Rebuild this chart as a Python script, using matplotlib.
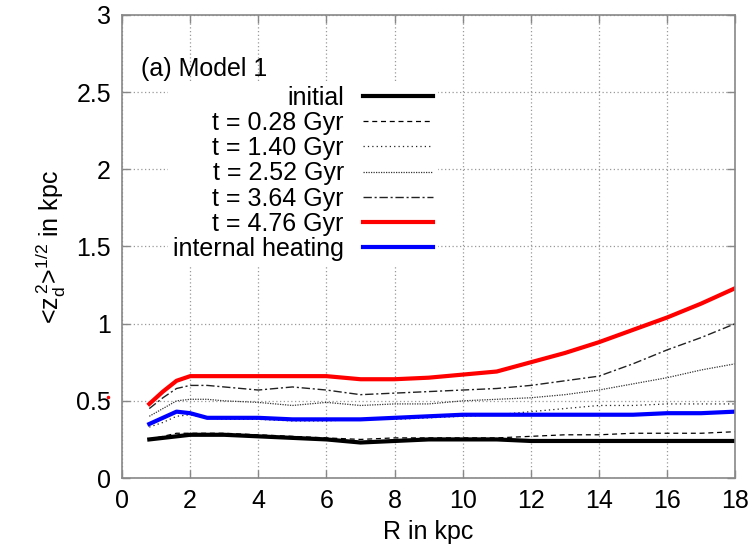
import numpy as np
import matplotlib
matplotlib.use('Agg')
import matplotlib.pyplot as plt

plt.rcParams['font.family'] = ['Liberation Sans', 'DejaVu Sans']
plt.rcParams['mathtext.default'] = 'regular'

# радиус, kpc
r = [0.8, 1.2, 1.6, 2.0, 2.5, 3, 4, 5, 6, 7, 8, 9, 10, 11, 12, 13, 14, 15, 16, 17, 18]

z_initial = [0.25, 0.26, 0.27, 0.28, 0.28, 0.28, 0.27, 0.26, 0.25, 0.23, 0.24,
             0.25, 0.25, 0.25, 0.24, 0.24, 0.24, 0.24, 0.24, 0.24, 0.24]
z_028 = [0.25, 0.27, 0.29, 0.29, 0.29, 0.29, 0.28, 0.27, 0.26, 0.25, 0.26,
         0.26, 0.26, 0.26, 0.27, 0.28, 0.28, 0.29, 0.29, 0.29, 0.30]
z_140 = [0.33, 0.36, 0.40, 0.41, 0.39, 0.38, 0.38, 0.37, 0.37, 0.38, 0.38,
         0.39, 0.40, 0.41, 0.43, 0.45, 0.47, 0.47, 0.48, 0.48, 0.48]
z_252 = [0.40, 0.45, 0.50, 0.51, 0.51, 0.50, 0.49, 0.47, 0.49, 0.47, 0.48,
         0.48, 0.50, 0.51, 0.52, 0.54, 0.57, 0.61, 0.65, 0.70, 0.74]
z_364 = [0.45, 0.52, 0.58, 0.60, 0.60, 0.59, 0.57, 0.59, 0.57, 0.54, 0.55,
         0.56, 0.57, 0.58, 0.60, 0.63, 0.66, 0.74, 0.83, 0.91, 1.00]
z_476 = [0.48, 0.56, 0.63, 0.66, 0.66, 0.66, 0.66, 0.66, 0.66, 0.64, 0.64,
         0.65, 0.67, 0.69, 0.75, 0.81, 0.88, 0.96, 1.04, 1.13, 1.23]
z_internal = [0.35, 0.39, 0.43, 0.42, 0.39, 0.39, 0.39, 0.38, 0.38, 0.38, 0.39,
              0.40, 0.41, 0.41, 0.41, 0.41, 0.41, 0.41, 0.42, 0.42, 0.43]

x_ticks = np.arange(0, 19, 2)
y_ticks = [0, 0.5, 1, 1.5, 2, 2.5, 3]
y_labels = ['0', '0.5', '1', '1.5', '2', '2.5', '3']

fig = plt.figure(figsize=(7.51, 5.53), dpi=100)
ax = fig.add_axes([0.1625, 0.1356, 0.8165, 0.8373])

ax.plot(r, z_initial, color='black', lw=3, label='initial')
ax.plot(r, z_028, color='black', lw=0.9, ls=(0, (4, 3)), label='t = 0.28 Gyr')
ax.plot(r, z_140, color='#222222', lw=0.9, ls=(0, (1, 2.5)), label='t = 1.40 Gyr')
ax.plot(r, z_252, color='#333333', lw=0.9, ls=(0, (1, 1)), label='t = 2.52 Gyr')
ax.plot(r, z_364, color='#222222', lw=1.0, ls=(0, (6, 2, 1.5, 2)), label='t = 3.64 Gyr')
ax.plot(r, z_476, color='#ff0000', lw=3, label='t = 4.76 Gyr')
ax.plot(r, z_internal, color='#0000ff', lw=3, label='internal heating')

# маленькая красная точка возле подписи 0.5
ax.plot([-0.4], [0.525], marker='.', color='red', ms=3, clip_on=False)

ax.set_xlim(0, 18)
ax.set_ylim(0, 3)
ax.set_xticks(x_ticks)
ax.set_yticks(y_ticks)
ax.set_yticklabels(y_labels)
ax.tick_params(direction='in', length=6, width=1, color='#888888',
               labelsize=18, top=True, right=True, pad=8)
for s in ax.spines.values():
    s.set_color('#888888')
    s.set_linewidth(1.2)
ax.grid(True, color='#999999', ls=(0, (1, 2)), lw=0.9)
ax.set_axisbelow(True)

ax.set_xlabel('R in kpc', fontsize=18, labelpad=5)
ax.set_ylabel(r'<$z_d^{\,2}$>$^{1/2}$ in kpc', fontsize=18, labelpad=6)

ax.text(0.55, 2.65, '(a) Model 1', fontsize=18, va='center', ha='left', zorder=10)

leg = ax.legend(loc='upper right', bbox_to_anchor=(0.535, 0.885), markerfirst=False,
                fontsize=18, frameon=True, framealpha=1, facecolor='white',
                edgecolor='none', fancybox=False, handlelength=2.8,
                handletextpad=0.75, labelspacing=0.05, borderpad=0.2)

fig.savefig('out.png', dpi=100)
